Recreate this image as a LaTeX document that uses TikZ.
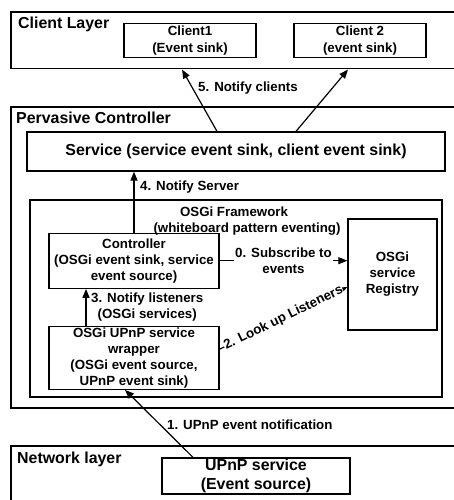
\documentclass[tikz,border=0pt]{standalone}
\usepackage{fontspec}
\setmainfont{Liberation Sans}
\usetikzlibrary{arrows.meta}
\begin{document}
\begin{tikzpicture}[x=1pt,y=-1pt,
  every node/.style={font=\bfseries\fontsize{13.3}{16}\selectfont, inner sep=0pt},
  layer/.style={draw, line width=1.4pt},
  boxx/.style={draw, line width=1.3pt, align=center, anchor=center},
  title/.style={font=\bfseries\fontsize{15.9}{18}\selectfont, anchor=west},
  arr/.style={line width=1.2pt, -{Triangle[length=9pt,width=7pt]}},
  lbl/.style={fill=white, inner sep=1.5pt, align=center}]
\useasboundingbox (0,0) rectangle (454,500);
\clip (0,0) rectangle (454,500);

% layer frames
\draw[layer] (11,12) rectangle (470,68.5);
\draw[layer] (11,107) rectangle (470,408);
\draw[layer] (11,446) rectangle (470,520);
\node[title] (tcl) at (18,24) {Client Layer};
\node[title] (tpc) at (16,118) {Pervasive Controller};
\node[title] (tnl) at (17,459) {Network layer};
\coordinate (c1in) at (182,69.5);
\coordinate (c2in) at (348,69.5);

% clients
\node[boxx, minimum width=132pt, minimum height=34pt, font=\bfseries\fontsize{13.3}{17}\selectfont] (c1) at (190,40.3) {Client1\\(Event sink)};
\node[boxx, minimum width=132pt, minimum height=34pt, font=\bfseries\fontsize{13.3}{17}\selectfont] (c2) at (360,40.3) {Client 2\\(event sink)};

% service
\node[boxx, minimum width=418pt, minimum height=39pt, font=\bfseries\fontsize{15.9}{18}\selectfont] (svc) at (236,151.5) {Service (service event sink, client event sink)};

% OSGi framework
\node[draw, line width=1.3pt, minimum width=412pt, minimum height=197pt] (fw) at (236,298.5) {};
\node (fwa) at (234,212) {OSGi Framework};
\node (fwb) at (247,229) {(whiteboard pattern eventing)};

\node[boxx, minimum width=170pt, minimum height=55pt] (ctrl) at (134,260.7) {Controller\\(OSGi event sink, service\\event source)};
\node[boxx, minimum width=89pt, minimum height=111pt] (reg) at (392.5,274.5) {OSGi\\service\\Registry};
\node[boxx, minimum width=170pt, minimum height=63pt] (wrap) at (134,357.7) {OSGi UPnP service\\wrapper\\(OSGi event source,\\UPnP event sink)};

% network
\node[boxx, minimum width=188pt, minimum height=36pt, font=\bfseries\fontsize{15.9}{19}\selectfont] (upnp) at (256,476) {UPnP service\\(Event source)};

% notifications
\draw[arr] ([xshift=-63pt]upnp.north) -- ([xshift=-9pt]wrap.south);
\node[anchor=west] (l1) at (167,425) {1. UPnP event notification};

\draw[arr] ([yshift=8.5pt]wrap.east) -- node[lbl, sloped, inner sep=0.5pt] (l2) {2. Look up Listeners} ([yshift=-12.5pt]reg.west);

\draw[arr] ([xshift=-48pt]wrap.north) -- ([xshift=-48pt]ctrl.south);
\node[anchor=north west, align=center] (l3) at (91,293) {3. Notify listeners\\(OSGi services)};

\draw[arr] (ctrl.east) -- node[lbl] (l0) {0. Subscribe to\\events} (ctrl.east -| reg.west);

\draw[arr] (ctrl.north) -- (ctrl.north |- svc.south);
\node[anchor=west] (l4) at (140,187) {4. Notify Server};

\draw[arr] ([xshift=-19pt]svc.north) -- (c1in);
\draw[arr] ([xshift=60pt]svc.north) -- (c2in);
\node (l5) at (248,88) {5. Notify clients};
\end{tikzpicture}
\end{document}
